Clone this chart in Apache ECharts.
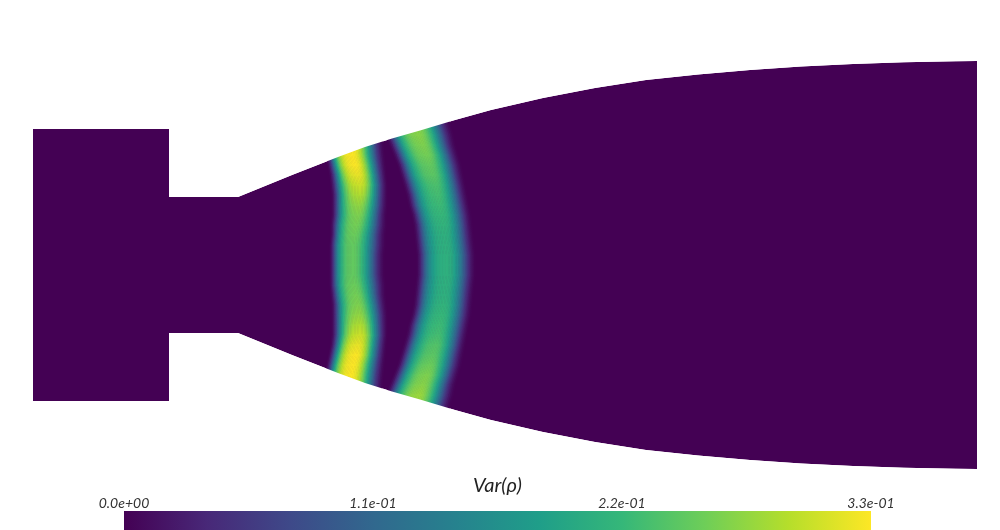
<!DOCTYPE html>
<html>
<head>
<meta charset="utf-8">
<title>Var(rho)</title>
<script src="https://cdn.jsdelivr.net/npm/echarts@6/dist/echarts.min.js"></script>
<style>
  html, body { margin: 0; padding: 0; background: #fff; }
  #chart { width: 1000px; height: 530px; }
</style>
</head>
<body>
<div id="chart"></div>
<script>
// viridis
const colorStops = ["#440154", "#482878", "#3e4989", "#31688e", "#26828e", "#1f9e89", "#35b779", "#6ece58", "#b5de2b", "#fde725"];
const tickValues = [0, 0.11, 0.22, 0.33];
const tickLabels = ["0.0e+00", "1.1e-01", "2.2e-01", "3.3e-01"];
const barTitle = "Var(ρ)";
const maxValue = 0.33;

// nozzle wall
const wallX = [33, 169, 169, 238, 265, 292, 315, 338, 365, 392, 420, 455, 491, 543, 595, 646, 698, 750, 801, 853, 904, 956, 977];
const wallTop = [129, 129, 197, 197, 186, 175, 166, 157, 147, 138.5, 130.5, 120, 110, 98, 88, 80, 74.5, 70, 66.5, 64, 62.3, 61.3, 61];
const wallBottom = [401, 401, 333, 333, 344, 355, 364, 373, 383, 391.5, 399.5, 410, 420, 432, 442, 450, 455.5, 460, 463.5, 466, 467.7, 468.7, 469];

// inner band: left edge, crest, right edge and crest value per row
const innerY = [135, 145, 155, 165, 175, 185, 195, 205, 215, 225, 235, 245, 255, 265, 275, 285, 295, 305, 315, 325, 335, 345, 355, 365, 375, 385, 395];
const innerLeft = [324, 325, 326, 328, 330, 331, 332, 332, 332, 331, 331, 330, 330, 330, 330, 330, 331, 332, 332, 332, 332, 331, 329, 327, 325, 324, 324];
const innerCrest = [350, 351, 352, 355, 358, 360, 360, 359, 358, 356, 354, 353, 353, 353, 353, 354, 356, 358, 359, 360, 360, 358, 356, 353, 351, 350, 350];
const innerRight = [382, 383, 384, 385, 386, 387, 387, 387, 386, 386, 385, 385, 384, 384, 384, 385, 385, 386, 387, 387, 387, 386, 385, 384, 383, 382, 382];
const innerValue = [0.33, 0.33, 0.33, 0.33, 0.32, 0.305, 0.29, 0.275, 0.265, 0.26, 0.255, 0.25, 0.25, 0.25, 0.25, 0.255, 0.26, 0.265, 0.275, 0.29, 0.305, 0.32, 0.33, 0.33, 0.33, 0.33, 0.33];

// outer band
const outerY = [115, 125, 135, 145, 155, 165, 175, 185, 195, 205, 215, 225, 235, 245, 255, 265, 275, 285, 295, 305, 315, 325, 335, 345, 355, 365, 375, 385, 395, 405, 415];
const outerLeft = [379, 382, 386, 390, 394, 398, 401, 404, 407, 409, 412, 414, 415, 416, 417, 417, 417, 416, 415, 414, 412, 409, 407, 404, 401, 398, 394, 390, 386, 382, 379];
const outerCrest = [414, 416, 419, 423, 427, 430, 433, 436, 438, 440, 442, 444, 445, 446, 447, 447, 447, 446, 445, 444, 442, 440, 438, 436, 433, 430, 427, 423, 419, 416, 414];
const outerRight = [448, 450, 453, 455, 458, 461, 463, 465, 467, 469, 471, 472, 473, 474, 475, 475, 475, 474, 473, 472, 471, 469, 467, 465, 463, 461, 458, 455, 453, 450, 448];
const outerValue = [0.27, 0.27, 0.27, 0.265, 0.26, 0.25, 0.245, 0.235, 0.23, 0.225, 0.22, 0.215, 0.21, 0.21, 0.21, 0.21, 0.21, 0.21, 0.21, 0.215, 0.22, 0.225, 0.23, 0.24, 0.245, 0.255, 0.265, 0.27, 0.28, 0.28, 0.28];

// share of the crest value, from a band's edge to its crest
const leftFlank = [0, 0.04, 0.1, 0.19, 0.3, 0.41, 0.52, 0.62, 0.7, 0.77, 0.82, 0.86, 0.9, 0.93, 0.95, 0.97, 0.98, 0.985, 0.99, 0.995, 1];
const rightFlank = [0, 0.02, 0.05, 0.09, 0.14, 0.2, 0.28, 0.36, 0.44, 0.52, 0.6, 0.67, 0.74, 0.8, 0.85, 0.89, 0.93, 0.96, 0.98, 0.99, 1];

function bandCells(ys, left, crest, right, vals) {
  const cells = [];
  for (let i = 0; i < ys.length - 1; i++) {
    for (let side = 0; side < 2; side++) {
      const from = side == 0 ? left : right;
      const flank = side == 0 ? leftFlank : rightFlank;
      const n = flank.length - 1;
      for (let j = 0; j < n; j++) {
        const xa = from[i] + (crest[i] - from[i]) * j / n;
        const xb = from[i] + (crest[i] - from[i]) * (j + 1) / n;
        const xc = from[i + 1] + (crest[i + 1] - from[i + 1]) * (j + 1) / n;
        const xd = from[i + 1] + (crest[i + 1] - from[i + 1]) * j / n;
        const share = (flank[j] + flank[j + 1]) / 2;
        cells.push([xa, xb, xc, xd, ys[i], ys[i + 1], vals[i] * share, vals[i + 1] * share]);
      }
    }
  }
  return cells;
}

const bandData = bandCells(innerY, innerLeft, innerCrest, innerRight, innerValue)
  .concat(bandCells(outerY, outerLeft, outerCrest, outerRight, outerValue));

function valueColor(v) {
  return echarts.color.lerp(v / maxValue, colorStops);
}

function outline(api, pts) {
  return { type: "polygon", shape: { points: pts.map(p => api.coord(p)) }, style: { fill: "#fff" } };
}

const chart = echarts.init(document.getElementById("chart"));
chart.setOption({
  animation: false,
  backgroundColor: "#fff",
  grid: [
    { left: 0, right: 0, top: 0, bottom: 0 },
    { left: 124, width: 747, top: 511, height: 19 }
  ],
  xAxis: [
    { gridIndex: 0, type: "value", min: 0, max: 1000, show: false },
    {
      gridIndex: 1,
      type: "value",
      position: "top",
      min: 0,
      max: maxValue,
      interval: 0.11,
      name: barTitle,
      nameLocation: "middle",
      nameGap: 14,
      nameTextStyle: { fontFamily: "Lato", fontStyle: "italic", fontSize: 20, color: "#222" },
      axisLine: { show: false },
      axisTick: { show: false },
      splitLine: { show: false },
      axisLabel: {
        margin: 1,
        fontFamily: "Lato",
        fontStyle: "italic",
        fontSize: 14,
        color: "#333",
        hideOverlap: false,
        formatter: v => tickLabels[tickValues.findIndex(t => Math.abs(t - v) < 1e-6)]
      }
    }
  ],
  yAxis: [
    { gridIndex: 0, type: "value", min: 0, max: 530, inverse: true, show: false },
    { gridIndex: 1, type: "value", min: 0, max: 1, show: false }
  ],
  series: [
    {
      // nozzle body
      type: "custom",
      coordinateSystem: "cartesian2d",
      silent: true,
      clip: false,
      z: 1,
      data: [[0]],
      renderItem: (params, api) => {
        const pts = wallX.map((x, i) => [x, wallTop[i]])
          .concat(wallX.map((x, i) => [x, wallBottom[i]]).reverse());
        const el = outline(api, pts);
        el.style.fill = colorStops[0];
        return el;
      }
    },
    {
      // variance bands
      type: "custom",
      coordinateSystem: "cartesian2d",
      silent: true,
      clip: false,
      z: 2,
      data: bandData,
      renderItem: (params, api) => {
        const y0 = api.value(4), y1 = api.value(5);
        const fill = {
          type: "linear", x: 0, y: 0, x2: 0, y2: 1,
          colorStops: [
            { offset: 0, color: valueColor(api.value(6)) },
            { offset: 1, color: valueColor(api.value(7)) }
          ]
        };
        return {
          type: "polygon",
          shape: { points: [
            api.coord([api.value(0), y0]), api.coord([api.value(1), y0]),
            api.coord([api.value(2), y1]), api.coord([api.value(3), y1])
          ] },
          style: { fill: fill, stroke: fill, lineWidth: 0.7 }
        };
      }
    },
    {
      // trims the bands back to the wall
      type: "custom",
      coordinateSystem: "cartesian2d",
      silent: true,
      clip: false,
      z: 3,
      data: [[0]],
      renderItem: (params, api) => {
        const upper = wallX.map((x, i) => [x, wallTop[i]]).slice(3);
        const lower = wallX.map((x, i) => [x, wallBottom[i]]).slice(3);
        return {
          type: "group",
          children: [
            outline(api, [[238, 0]].concat(upper, [[977, 0]])),
            outline(api, [[238, 474]].concat(lower, [[977, 474]]))
          ]
        };
      }
    },
    {
      // colour bar
      type: "custom",
      coordinateSystem: "cartesian2d",
      xAxisIndex: 1,
      yAxisIndex: 1,
      silent: true,
      clip: false,
      z: 3,
      data: [[0, maxValue]],
      renderItem: (params, api) => {
        const a = api.coord([api.value(0), 1]);
        const b = api.coord([api.value(1), 0]);
        return {
          type: "rect",
          shape: { x: a[0], y: a[1], width: b[0] - a[0], height: b[1] - a[1] },
          style: {
            fill: {
              type: "linear", x: 0, y: 0, x2: 1, y2: 0,
              colorStops: colorStops.map((c, i) => ({ offset: i / (colorStops.length - 1), color: c }))
            }
          }
        };
      }
    }
  ]
});
</script>
</body>
</html>
